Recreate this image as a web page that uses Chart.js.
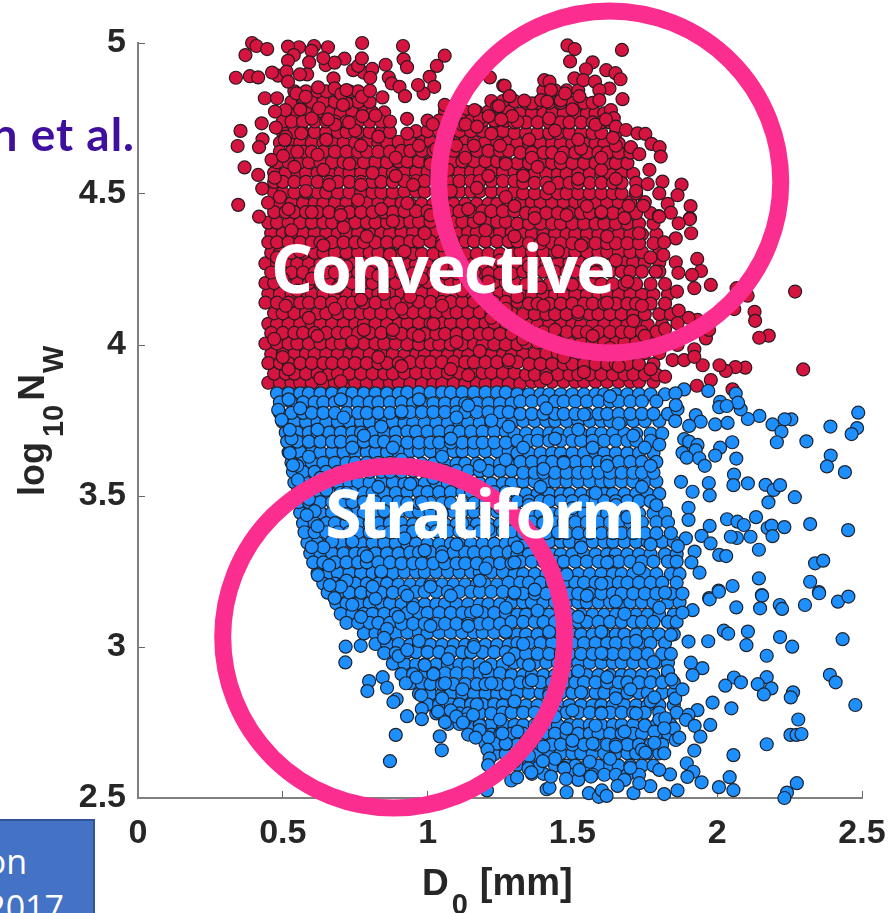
<!DOCTYPE html>
<html>
<head>
<meta charset="utf-8">
<title>D0 vs log10Nw</title>
<script src="https://cdn.jsdelivr.net/npm/chart.js@4/dist/chart.umd.min.js"></script>
<style>
  html, body { margin: 0; padding: 0; background: #fff; overflow: hidden; }
  #wrap { position: relative; width: 892px; height: 913px; overflow: hidden; }
  #cite { position: absolute; right: 757px; top: 112px; color: #3f0f9e; white-space: nowrap;
          font: 700 46px/44px Lato, sans-serif; letter-spacing: 1px; }
  #box { position: absolute; left: -2px; top: 819px; width: 93px; height: 100px; background: #4472c4;
         border: 2px solid #2f5597; color: #fff; overflow: hidden;
         font: 34px/40px "Open Sans", sans-serif; }
  #box div { position: absolute; white-space: nowrap; }
</style>
</head>
<body>
<div id="wrap">
  <canvas id="scatter" width="892" height="913"></canvas>
  <div id="cite">n et al.</div>
  <div id="box"><div style="right:66px;top:20px">on</div><div style="right:29px;top:66px">2017</div></div>
</div>
<script>
// tick values
const xTicks = [0, 0.5, 1, 1.5, 2, 2.5];
const yTicks = [2.5, 3, 3.5, 4, 4.5, 5];

// circles drawn on top of the scatter, D0 / log10Nw of their centres
const circleCentres = [[1.629, 4.54], [0.883, 3.033]];

// loose convective points, [D0, log10Nw]
const convectiveLoose = [
[.394,5.0],[.409,4.99],[.446,4.98],[.371,4.96],[.338,4.885],[.386,4.89],[.415,4.886],[.774,5.0],[.915,4.99],[.917,4.946],[.929,4.92],[1.059,4.958],[1.032,4.924],[1.007,4.888],[1.023,4.855],[.986,4.833],[.967,4.861],[.855,4.928],[.866,4.886],[.876,4.866],[.903,4.855],[.922,4.824],[.844,4.82],[.773,4.822],[.801,4.842],[.779,4.902],[.809,4.914],[.802,4.885],[.743,4.91],[.76,4.924],[.773,4.949],[.713,4.948],[.656,4.986],[.608,4.99],[.556,4.986],[.518,4.988],[.538,4.96],[.599,4.974],[.518,4.941],[.591,4.936],[.648,4.927],[.679,4.935],[.64,4.95],[.484,4.892],[.463,4.902],[.513,4.905],[.584,4.896],[.559,4.896],[.518,4.872],[.622,4.853],[.675,4.883],[.679,4.85],[.702,4.831],[.72,4.844],[.547,4.833],[.438,4.817],[.48,4.817],[.579,4.822],[.625,4.784],[.509,4.778],[.473,4.773],[.708,4.795],[.427,4.734],[.354,4.709],[.344,4.659],[.43,4.681],[.418,4.655],[.368,4.588],[.415,4.563],[.429,4.518],[.346,4.464],[.449,4.471],[.418,4.425],[.472,4.554],[.461,4.613],[.476,4.72],[.507,4.679],[.501,4.626],[.564,4.701],[.656,4.747],[.729,4.737],[.775,4.758],[.929,4.749],[1.018,4.731],[1.215,4.886],[1.261,4.859],[1.283,4.824],[1.246,4.791],[1.162,4.778],[1.211,4.758],[1.292,4.758],[1.254,4.747],[1.099,4.66],[1.059,4.795],[1.131,4.731],[1.171,4.723],
[1.483,4.992],[1.508,4.98],[1.671,4.977],[1.492,4.939],[1.57,4.936],[1.547,4.913],[1.617,4.91],[1.649,4.9],[1.666,4.88],[1.403,4.877],[1.421,4.872],[1.507,4.883],[1.538,4.877],[1.578,4.872],[1.628,4.849],[1.593,4.844],[1.673,4.814],[1.475,4.833],[1.426,4.844],[1.524,4.824],[1.593,4.811],[1.266,4.858],[1.283,4.824],[1.334,4.809],[1.392,4.811],[1.413,4.806],[1.633,4.778],[1.643,4.751],[1.616,4.747],[1.65,4.723],[1.685,4.712],[1.725,4.701],[1.752,4.699],[1.773,4.666],[1.801,4.655],[1.805,4.624],[1.702,4.655],[1.731,4.632],[1.64,4.686],[1.766,4.58],[1.811,4.541],[1.877,4.531],[1.863,4.496],[1.829,4.467],[1.908,4.46],[1.906,4.42],[1.8,4.502],[1.76,4.533],[1.745,4.461],[1.84,4.438],[1.798,4.427],[1.694,4.461],
[1.905,4.417],[1.91,4.37],[1.8,4.425],[1.867,4.403],[1.857,4.353],[1.817,4.34],[1.814,4.298],[1.931,4.285],[1.857,4.274],[1.944,4.245],[1.866,4.239],[1.913,4.232],[1.788,4.243],[1.978,4.199],[1.921,4.188],[1.861,4.177],[2.067,4.188],[2.105,4.163],[2.269,4.177],[2.129,4.11],[2.131,4.08],[2.059,4.119],[2.178,4.031],[2.145,4.024],[2.297,3.919],[2.097,3.925],[2.063,3.927],[2.03,3.914],[2.008,3.933],[1.95,3.933],[1.978,3.884],[1.93,3.865],[2.053,3.853],[1.846,3.95],[1.886,3.95],[1.921,3.986],[1.921,3.961],[1.961,4.022],[1.972,4.05],[1.932,4.083],[1.901,4.09],[1.867,4.114],[1.863,4.072],[1.82,4.053],[1.82,3.895],[1.863,4.0]
];

// irregular points on top of the dense convective cloud, [D0, log10Nw]
const convectiveOnTop = [
[.52,3.92],[.97,4.03],[1.41,3.89],[.68,4.12],[1.63,3.99],[.83,3.96],[1.22,4.09],[.47,4.02],[1.52,4.11],[1.08,3.92],[.74,4.01],[1.33,4.02],[.59,4.09],[1.71,4.08],[.91,4.12],[1.18,3.98],[1.47,3.96],[.63,3.89],[1.02,4.07],[1.77,3.92],
[.55,4.18],[.98,4.22],[1.39,4.19],[.72,4.26],[1.58,4.24],[.85,4.17],[1.25,4.28],[.48,4.29],[1.69,4.21],[1.12,4.18],[.64,4.33],[1.45,4.31],[.92,4.31],[1.31,4.16],[.79,4.36],[1.77,4.29],[1.05,4.33],[.53,4.38],[1.62,4.36],[1.2,4.38],
[.6,4.44],[1.01,4.43],[1.37,4.42],[.76,4.48],[1.55,4.46],[.88,4.41],[1.27,4.49],[.49,4.49],[1.68,4.42],[1.14,4.45],[.66,4.53],[1.42,4.52],[.95,4.53],[1.33,4.56],[.81,4.57],[1.72,4.51],[1.07,4.58],[.54,4.59],[1.6,4.58],[1.21,4.56],
[.62,4.63],[1.03,4.65],[1.36,4.62],[.77,4.66],[1.53,4.65],[.89,4.62],[1.25,4.66],[.51,4.69],[1.65,4.66],[1.13,4.62],[.68,4.73],[1.44,4.71],[.93,4.7],[1.31,4.74],[.82,4.76],[1.58,4.73],[1.12,4.73],[.56,4.78],[1.5,4.78],[1.36,4.8],
[.7,3.88],[1.14,3.9],[1.54,3.91],[.91,3.93],[.5,3.96],[1.28,3.95],[1.66,3.93],[.78,4.05],[1.1,4.01],[1.44,4.05],[.62,4.03],[1.57,4.03],[1.75,4.03],[.88,4.05],[1.27,4.12],[1.05,4.13],[.51,4.13],[1.4,4.13],[.77,4.15],[1.62,4.14],
[.94,4.16],[1.16,4.24],[.6,4.22],[1.35,4.26],[.83,4.23],[1.5,4.2],[1.74,4.13],[.5,4.22],[1.05,4.26],[1.65,4.28],[.69,4.19],[1.21,4.21],[.87,4.3],[1.4,4.35],[1.1,4.3],[.56,4.31],[1.53,4.33],[.99,4.37],[.71,4.39],[1.3,4.36],
[1.73,4.37],[.84,4.45],[1.18,4.42],[.52,4.45],[1.48,4.43],[1.08,4.51],[.7,4.43],[1.6,4.44],[.93,4.47],[1.3,4.46],[.58,4.51],[1.52,4.55],[.77,4.53],[1.17,4.52],[1.65,4.55],[1.38,4.59],[.89,4.56],[.64,4.58],[1.01,4.6],[1.27,4.6],
[.73,4.6],[1.46,4.62],[1.16,4.66],[.55,4.64],[1.6,4.62],[.97,4.66],[.83,4.69],[1.35,4.68],[.65,4.68],[1.07,4.69],[1.52,4.68],[1.22,4.7],[.75,4.71],[1.42,4.75],[.6,4.75],[1.24,4.79],[.72,4.8],[1.18,4.75],[.57,4.82],[1.46,4.81]
];

// dense convective cloud read band by band, [log10Nw, D0, D0, ...]
const convectiveBands = [
[3.875,.45,.49,.53,.56,.60,.64,.68,.71,.75,.79,.83,.87,.90],[3.872,.94,.98,1.02,1.05,1.09,1.13,1.17,1.20,1.24,1.28,1.32],[3.878,1.36,1.39,1.43,1.47,1.51,1.54,1.58,1.62,1.66,1.70,1.73,1.78],
[3.97,.46,.50,.54,.58,.61,.65,.69,.73,.76,.80,.84,.88],[3.967,.92,.96,.99,1.03,1.07,1.11,1.14,1.18,1.22,1.26,1.29],[3.973,1.33,1.37,1.41,1.45,1.48,1.52,1.56,1.60,1.63,1.67,1.71,1.75,1.80],
[4.07,.45,.48,.52,.56,.60,.63,.67,.71,.75,.78,.82,.86,.90],[4.073,.93,.97,1.01,1.05,1.08,1.12,1.16,1.20,1.23,1.27,1.31],[4.067,1.35,1.38,1.42,1.46,1.50,1.53,1.57,1.61,1.65,1.69,1.72,1.76,1.81],
[4.17,.45,.49,.53,.57,.60,.64,.68,.72,.76,.79,.83,.87],[4.173,.91,.94,.98,1.02,1.06,1.10,1.13,1.17,1.21,1.25,1.28],[4.167,1.32,1.36,1.40,1.44,1.47,1.51,1.55,1.59,1.62,1.66,1.70,1.74,1.78,1.83],
[4.27,.44,.48,.51,.55,.59,.63,.66,.70,.74,.78,.81,.85,.89],[4.267,.93,.96,1.00,1.04,1.08,1.11,1.15,1.19,1.23,1.26,1.30],[4.273,1.34,1.38,1.41,1.45,1.49,1.53,1.56,1.60,1.64,1.68,1.71,1.75,1.80],
[4.37,.46,.50,.53,.57,.61,.65,.69,.72,.76,.80,.84,.87],[4.373,.91,.95,.99,1.02,1.06,1.10,1.14,1.17,1.21,1.25,1.29],[4.367,1.33,1.36,1.40,1.44,1.48,1.51,1.55,1.59,1.63,1.66,1.70,1.74,1.79],
[4.47,.46,.49,.53,.57,.61,.64,.68,.72,.76,.79,.83,.87,.91],[4.467,.94,.98,1.02,1.06,1.09,1.13,1.17,1.21,1.24,1.28],[4.473,1.32,1.36,1.39,1.43,1.47,1.51,1.54,1.58,1.62,1.66,1.70,1.75],
[4.57,.47,.51,.55,.58,.62,.66,.70,.73,.77,.81,.85,.88],[4.573,.92,.96,1.00,1.03,1.07,1.11,1.15,1.18,1.22,1.26,1.30],[4.567,1.33,1.37,1.41,1.45,1.48,1.52,1.56,1.60,1.63,1.67,1.71],
[4.67,.49,.53,.56,.60,.64,.68,.71,.75,.79,.83,.86],[4.673,.90,.94,.98,1.01,1.05,1.09,1.13,1.16,1.20,1.24,1.28],[4.667,1.31,1.35,1.39,1.43,1.46,1.50,1.54,1.58,1.61,1.66],
[4.77,.51,.55,.59,.62,.66,.70,.74,.78,.81,.85],[4.773,1.06,1.10,1.13,1.17,1.21,1.25,1.28],[4.767,1.32,1.36,1.40,1.43,1.47,1.51,1.55,1.58,1.61],
[3.905,.47,.51,.54,.58,.62,.66,.69,.73,.77,.81,.85,.88],[3.908,.92,.96,1.00,1.03,1.07,1.11,1.15,1.19,1.22,1.26,1.30],[3.902,1.34,1.37,1.41,1.45,1.49,1.52,1.56,1.60,1.64,1.68,1.71,1.75,1.79],
[4.005,.44,.48,.52,.55,.59,.63,.67,.70,.74,.78,.82,.85,.89],[4.002,.93,.97,1.01,1.04,1.08,1.12,1.16,1.19,1.23,1.27,1.31],[4.008,1.34,1.38,1.42,1.46,1.49,1.53,1.57,1.61,1.65,1.68,1.72,1.77,1.82],
[4.105,.47,.50,.54,.58,.62,.65,.69,.73,.77,.80,.84,.88],[4.108,.92,.95,.99,1.03,1.07,1.10,1.14,1.18,1.22,1.26,1.29],[4.102,1.33,1.37,1.41,1.44,1.48,1.52,1.56,1.59,1.63,1.67,1.71,1.75,1.80,1.84],
[4.205,.44,.47,.51,.55,.59,.63,.66,.70,.74,.78,.81,.85,.89],[4.208,.93,.96,1.00,1.04,1.08,1.11,1.15,1.19,1.23,1.27,1.30],[4.202,1.34,1.38,1.42,1.45,1.49,1.53,1.57,1.60,1.64,1.68,1.72,1.77,1.82],
[4.305,.46,.49,.53,.57,.61,.64,.68,.72,.76,.80,.83,.87],[4.302,.91,.95,.98,1.02,1.06,1.10,1.13,1.17,1.21,1.25,1.29],[4.308,1.32,1.36,1.40,1.44,1.47,1.51,1.55,1.59,1.62,1.66,1.70,1.74,1.80],
[4.405,.45,.48,.52,.56,.60,.64,.67,.71,.75,.79,.82,.86,.90],[4.408,.94,.97,1.01,1.05,1.09,1.12,1.16,1.20,1.24,1.27],[4.402,1.31,1.35,1.39,1.43,1.46,1.50,1.54,1.58,1.61,1.65,1.69,1.73,1.78],
[4.505,.47,.50,.54,.58,.62,.65,.69,.73,.77,.81,.84,.88],[4.508,.92,.96,.99,1.03,1.07,1.11,1.15,1.18,1.22,1.26,1.30],[4.502,1.33,1.37,1.41,1.45,1.48,1.52,1.56,1.60,1.64,1.67,1.72],
[4.605,.48,.52,.56,.59,.63,.67,.71,.75,.78,.82,.86],[4.608,.90,.93,.97,1.01,1.05,1.09,1.12,1.16,1.20,1.24,1.27],[4.602,1.31,1.35,1.39,1.43,1.46,1.50,1.54,1.58,1.62,1.65,1.69],
[4.705,.50,.54,.57,.61,.65,.69,.72,.76,.80,.84,.87],[4.708,.96,1.00,1.04,1.08,1.11,1.15,1.19,1.23,1.26],[4.702,1.30,1.34,1.38,1.42,1.45,1.49,1.53,1.57,1.60,1.65],
[4.805,.53,.57,.60,.64,.68,.72,.76,.80],[4.808,1.22,1.26,1.30],[4.802,1.34,1.38,1.42,1.46,1.50,1.54,1.57],
[3.94,.45,.49,.52,.56,.60,.64,.67,.71,.75,.79,.83,.86,.90],[3.943,.94,.98,1.01,1.05,1.09,1.13,1.16,1.20,1.24,1.28,1.31],[3.937,1.35,1.39,1.43,1.47,1.50,1.54,1.58,1.62,1.65,1.69,1.73,1.78],
[4.04,.46,.50,.54,.57,.61,.65,.69,.72,.76,.80,.84,.88],[4.037,.91,.95,.99,1.03,1.06,1.10,1.14,1.18,1.21,1.25,1.29],[4.043,1.33,1.36,1.40,1.44,1.48,1.52,1.55,1.59,1.63,1.67,1.70,1.74,1.79],
[4.14,.44,.48,.52,.56,.59,.63,.67,.71,.74,.78,.82,.86,.89],[4.143,.93,.97,1.01,1.05,1.08,1.12,1.16,1.20,1.23,1.27,1.31],[4.137,1.35,1.38,1.42,1.46,1.50,1.54,1.57,1.61,1.65,1.69,1.72,1.77,1.82],
[4.24,.46,.50,.53,.57,.61,.65,.68,.72,.76,.80,.84,.87],[4.237,.91,.95,.99,1.02,1.06,1.10,1.14,1.17,1.21,1.25,1.29],[4.243,1.33,1.36,1.40,1.44,1.48,1.51,1.55,1.59,1.63,1.67,1.70,1.74,1.80],
[4.34,.45,.48,.52,.56,.60,.63,.67,.71,.75,.78,.82,.86,.90],[4.343,.94,.97,1.01,1.05,1.09,1.13,1.16,1.20,1.24,1.28,1.31],[4.337,1.35,1.39,1.43,1.46,1.50,1.54,1.58,1.62,1.65,1.69,1.73,1.78],
[4.44,.47,.51,.54,.58,.62,.66,.70,.73,.77,.81,.85,.88],[4.443,.92,.96,1.00,1.04,1.07,1.11,1.15,1.19,1.22,1.26,1.30],[4.437,1.34,1.37,1.41,1.45,1.49,1.53,1.56,1.60,1.64,1.68,1.72,1.77],
[4.54,.47,.50,.54,.58,.62,.66,.69,.73,.77,.81,.84,.88],[4.543,.92,.96,.99,1.03,1.07,1.11,1.15,1.18,1.22,1.26,1.30],[4.537,1.33,1.37,1.41,1.45,1.49,1.52,1.56,1.60,1.64,1.67,1.72],
[4.64,.49,.53,.57,.60,.64,.68,.72,.76,.79,.83,.87],[4.643,.91,.94,.98,1.02,1.06,1.09,1.13,1.17,1.21,1.25,1.28],[4.637,1.32,1.36,1.40,1.43,1.47,1.51,1.55,1.59,1.62,1.66,1.70],
[4.74,.50,.53,.57,.61,.65,.68,.72,.76,.80,.84,.87],[4.743,1.00,1.04,1.08,1.12,1.15,1.19,1.23,1.27],[4.737,1.30,1.34,1.38,1.42,1.46,1.49,1.53,1.57,1.60,1.63],
[4.84,.54,.58,.62,.65,.69,.73,.76],[4.843,1.40,1.44,1.48,1.52]
];

// loose stratiform points, [D0, log10Nw]
const stratiformLoose = [
[2.487,3.776],[2.483,3.725],[2.464,3.705],[2.391,3.73],[2.308,3.681],[2.256,3.754],[2.233,3.754],[2.191,3.737],[2.222,3.713],[2.206,3.678],[2.146,3.765],[2.106,3.755],[2.081,3.787],[2.064,3.839],[2.072,3.809],[2.01,3.812],[2.007,3.794],[2.033,3.798],[1.969,3.848],[1.886,3.853],[1.856,3.84],[1.863,3.787],[1.857,3.801],[1.855,3.748],[1.926,3.768],[1.943,3.746],[1.903,3.732],[1.993,3.737],[2.036,3.742],[1.886,3.688],[1.903,3.68],[1.932,3.669],[1.926,3.652],[1.88,3.643],[1.895,3.627],[1.938,3.625],[1.957,3.6],[2.01,3.66],[1.993,3.634],[2.052,3.678],[2.066,3.624],[2.058,3.571],[2.056,3.536],[2.106,3.542],[2.167,3.537],[2.195,3.52],[2.217,3.536],[2.177,3.479],[2.268,3.496],[2.392,3.634],[2.379,3.598],[2.441,3.579],[1.971,3.543],[1.974,3.502],[1.915,3.514],[1.875,3.547],[1.901,3.461],[1.901,3.421],[2.034,3.423],[2.134,3.43],[2.07,3.415],[2.092,3.404],[2.174,3.394],[2.188,3.402],[2.232,3.397],[2.321,3.407],[2.452,3.387],[2.191,3.367],[2.115,3.365],[2.068,3.361],[2.047,3.365],[2.144,3.322],[1.974,3.401],[1.946,3.368],[1.977,3.343],[1.892,3.36],[1.864,3.334],[1.922,3.316],[2.007,3.305],[2.031,3.301],[1.911,3.28],[1.939,3.246],[2.338,3.277],[2.366,3.286],[2.144,3.227],[2.321,3.216],[2.351,3.182],[2.053,3.202],[2.005,3.187],[1.972,3.162],[2.154,3.172],
[1.974,3.158],[2.006,3.183],[2.066,3.131],[2.155,3.17],[2.148,3.128],[2.216,3.139],[2.224,3.126],[2.303,3.139],[2.352,3.178],[2.417,3.15],[2.453,3.167],[1.915,3.122],[1.88,3.114],[2.023,3.054],[2.038,3.044],[2.106,3.051],[1.969,3.019],[2.101,3.006],[2.217,3.033],[2.259,3.001],[2.433,3.026],[2.171,2.971],[1.901,3.018],[1.949,2.93],[1.909,2.948],[1.915,2.907],[2.058,2.899],[2.082,2.883],[2.028,2.872],[2.171,2.9],[2.14,2.877],[2.187,2.863],[2.161,2.843],[2.389,2.908],[2.409,2.883],[2.262,2.85],[2.254,2.833],[2.477,2.808],[1.984,2.816],[2.049,2.797],[1.932,2.791],[1.901,2.775],[1.892,2.759],[1.922,2.739],[1.976,2.742],[1.942,2.703],[2.28,2.76],[2.253,2.709],[2.274,2.709],[2.291,2.712],[2.171,2.678],[2.056,2.642],[1.921,2.657],[1.895,2.615],[1.918,2.587],[1.946,2.552],[2.043,2.569],[2.006,2.536],[2.056,2.526],[2.275,2.549],[2.241,2.518],[2.232,2.5],[1.863,2.525],[1.817,2.513],[1.769,2.539],[1.837,2.578],[1.8,2.593],[1.897,2.57],[1.857,2.692],[1.869,2.7],[1.783,2.72],[1.783,2.683],[1.817,2.648],[1.752,2.65],[1.783,2.833],[1.855,2.829],[1.88,2.86],[1.821,2.764],[1.817,2.731],[1.842,2.893],
[.717,3.001],[.769,3.004],[.716,2.949],[.798,2.887],[.792,2.854],[.845,2.9],[.86,2.865],[.893,2.827],[.882,2.818],[.98,2.795],[.929,2.771],[.98,2.761],[.89,2.709],[1.042,2.704],[1.049,2.658],[.87,2.622],[.978,2.84],[.925,2.88],[.962,2.899],[1.036,2.786],[1.06,2.751],[1.099,2.77],[1.122,2.75],[1.157,2.775],[1.179,2.725],[1.166,2.7],[1.258,2.714],[1.207,2.66],[1.214,2.631],[1.209,2.609],[1.289,2.558],[1.309,2.568],[1.348,2.598],[1.358,2.585],[1.205,2.525],[1.411,2.529],[1.421,2.534],[1.48,2.519],[1.557,2.516],[1.591,2.504],[1.602,2.525],[1.618,2.507],[1.711,2.516],[1.656,2.54],[1.731,2.549],[1.472,2.598],[1.478,2.563],[1.426,2.571],[1.524,2.593],[1.398,2.622],[1.564,2.571],
[.484,3.785],[.496,3.752],[.524,3.719],[.524,3.642],[.535,3.602],[.552,3.553],[.583,3.437],[.6,3.331],[.621,3.238],[.662,3.205],[.679,3.162]
];

// irregular points on top of the dense stratiform cloud, [D0, log10Nw]
const stratiformOnTop = [
[.56,3.79],[.97,3.82],[1.41,3.79],[.71,3.76],[1.63,3.83],[.84,3.73],[1.22,3.75],[.53,3.69],[1.52,3.72],[1.08,3.69],[.74,3.66],[1.33,3.66],[.59,3.63],[1.71,3.7],[.91,3.62],[1.18,3.6],[1.47,3.61],[.63,3.56],[1.02,3.56],[1.77,3.6],
[.59,3.49],[.98,3.48],[1.39,3.53],[.72,3.51],[1.58,3.51],[.85,3.45],[1.25,3.46],[.62,3.4],[1.69,3.43],[1.12,3.41],[.67,3.35],[1.45,3.38],[.92,3.36],[1.31,3.33],[.79,3.3],[1.77,3.34],[1.05,3.3],[.66,3.27],[1.62,3.28],[1.2,3.26],
[.72,3.22],[1.01,3.2],[1.37,3.19],[.82,3.16],[1.55,3.17],[.95,3.13],[1.27,3.13],[.77,3.1],[1.68,3.11],[1.14,3.07],[.86,3.06],[1.42,3.05],[.97,3.02],[1.33,3.01],[.9,2.97],[1.72,3.02],[1.07,2.96],[1.6,2.98],[1.2,2.93],[1.02,2.91],
[1.12,2.86],[1.36,2.89],[1.05,2.83],[1.53,2.85],[1.17,2.81],[1.25,2.76],[1.65,2.83],[1.13,2.76],[1.44,2.77],[1.31,2.72],[1.58,2.74],[1.75,2.74],[1.21,2.7],[1.4,2.67],[1.5,2.69],[1.65,2.67],[1.3,2.62],[1.56,2.62],[1.7,2.6],[1.47,2.6],
[.7,3.82],[1.14,3.8],[1.54,3.77],[.91,3.78],[.52,3.82],[1.28,3.73],[1.66,3.74],[.78,3.7],[1.1,3.76],[1.44,3.69],[.62,3.72],[1.57,3.66],[1.75,3.66],[.88,3.66],[1.27,3.62],[1.05,3.63],[.55,3.6],[1.4,3.59],[.77,3.59],[1.62,3.6],
[.94,3.54],[1.16,3.53],[.65,3.52],[1.35,3.47],[.83,3.53],[1.5,3.46],[1.74,3.53],[.61,3.45],[1.05,3.44],[1.65,3.47],[.72,3.44],[1.21,3.39],[.87,3.38],[1.4,3.41],[1.1,3.34],[.64,3.33],[1.53,3.33],[.99,3.32],[.74,3.35],[1.3,3.28],
[1.73,3.26],[.84,3.25],[1.18,3.22],[.7,3.2],[1.48,3.24],[1.08,3.17],[.81,3.2],[1.6,3.21],[.93,3.17],[1.3,3.18],[.74,3.14],[1.52,3.1],[.9,3.1],[1.17,3.12],[1.65,3.15],[1.38,3.12],[.85,3.03],[1.01,3.07],[1.27,3.05],[1.8,3.13],
[.93,2.99],[1.46,2.98],[1.16,3.0],[.99,2.94],[1.6,3.05],[1.28,2.96],[1.06,2.88],[1.35,2.94],[1.78,2.95],[1.52,2.92],[1.22,2.88],[1.42,2.84],[1.08,2.79],[1.62,2.9],[1.7,2.86],[1.3,2.82],[1.18,2.74],[1.5,2.79],[1.77,2.82],[1.6,2.78],
[1.38,2.74],[1.27,2.68],[1.48,2.73],[1.68,2.72],[1.35,2.64],[1.57,2.68],[1.74,2.66],[1.44,2.63],[1.63,2.63],[1.52,2.56],[1.68,2.56],[1.38,2.6],[1.8,2.76],[1.72,2.78],[1.85,2.73],[1.83,2.92],[1.84,3.04],[1.82,3.18],[1.79,3.47],[1.8,3.67]
];

// dense stratiform cloud read band by band, [log10Nw, D0, D0, ...]
const stratiformBands = [
[3.84,.48,.52,.56,.59,.63,.67,.71,.74,.78,.82,.86,.90],[3.843,.93,.97,1.01,1.05,1.08,1.12,1.16,1.20,1.24,1.27],[3.837,1.31,1.35,1.39,1.42,1.46,1.50,1.54,1.58,1.61,1.65,1.69,1.73,1.77,1.82],
[3.745,.50,.54,.58,.62,.65,.69,.73,.77,.80,.84,.88],[3.742,.92,.95,.99,1.03,1.07,1.11,1.14,1.18,1.22,1.26,1.29],[3.748,1.33,1.37,1.41,1.44,1.48,1.52,1.56,1.60,1.63,1.67,1.71,1.75,1.80],
[3.645,.52,.56,.60,.63,.67,.71,.75,.79,.82,.86,.90],[3.648,.94,.97,1.01,1.05,1.09,1.12,1.16,1.20,1.24,1.28],[3.642,1.31,1.35,1.39,1.43,1.46,1.50,1.54,1.58,1.61,1.65,1.69,1.73,1.78],
[3.545,.54,.58,.61,.65,.69,.73,.76,.80,.84,.88],[3.542,.92,.95,.99,1.03,1.07,1.11,1.14,1.18,1.22,1.26,1.29],[3.548,1.33,1.37,1.41,1.44,1.48,1.52,1.56,1.60,1.63,1.67,1.71,1.75,1.79],
[3.445,.56,.60,.63,.67,.71,.75,.78,.82,.86,.90],[3.448,.94,.97,1.01,1.05,1.09,1.12,1.16,1.20,1.24,1.28],[3.442,1.31,1.35,1.39,1.43,1.46,1.50,1.54,1.58,1.62,1.65,1.69,1.73,1.78,1.82],
[3.345,.585,.62,.66,.70,.74,.77,.81,.85,.89],[3.342,.93,.96,1.00,1.04,1.08,1.11,1.15,1.19,1.23,1.27],[3.348,1.30,1.34,1.38,1.42,1.46,1.49,1.53,1.57,1.61,1.64,1.68,1.72,1.76,1.81,1.85],
[3.245,.62,.66,.69,.73,.77,.81,.84,.88],[3.248,.92,.96,.99,1.03,1.07,1.11,1.15,1.18,1.22,1.26],[3.242,1.30,1.33,1.37,1.41,1.45,1.48,1.52,1.56,1.60,1.64,1.67,1.71,1.75,1.79,1.84,1.87],
[3.145,.685,.72,.76,.80,.84,.87],[3.142,.91,.95,.99,1.03,1.06,1.10,1.14,1.18,1.21,1.25],[3.148,1.29,1.33,1.36,1.40,1.44,1.48,1.52,1.55,1.59,1.63,1.67,1.70,1.74,1.78,1.83,1.87],
[3.045,.78,.82,.85,.89],[3.048,.93,.97,1.00,1.04,1.08,1.12,1.16,1.19,1.23,1.27],[3.042,1.31,1.34,1.38,1.42,1.46,1.50,1.53,1.57,1.61,1.65,1.68,1.72,1.76,1.80,1.85],
[2.945,.88,.92],[2.942,.96,.99,1.03,1.07,1.11,1.14,1.18,1.22,1.26],[2.948,1.30,1.33,1.37,1.41,1.45,1.48,1.52,1.56,1.60,1.64,1.67,1.71,1.75,1.79,1.83],
[2.845,.97,1.01,1.05,1.08,1.12,1.16,1.20,1.24],[2.848,1.27,1.31,1.35,1.39,1.42,1.46,1.50,1.54,1.58,1.61,1.65,1.69,1.73,1.76,1.81,1.85],
[2.745,1.07,1.11,1.15,1.18,1.22,1.26],[2.742,1.30,1.33,1.37,1.41,1.45,1.49,1.52,1.56,1.60,1.64,1.67,1.71,1.75,1.79,1.84],
[2.645,1.23,1.27,1.31,1.35,1.38],[2.648,1.42,1.46,1.50,1.53,1.57,1.61,1.65,1.69,1.72,1.76,1.80],
[3.81,.49,.53,.57,.61,.64,.68,.72,.76,.80,.83,.87,.91],[3.807,.95,.98,1.02,1.06,1.10,1.13,1.17,1.21,1.25,1.29],[3.813,1.32,1.36,1.40,1.44,1.47,1.51,1.55,1.59,1.63,1.66,1.70,1.74,1.79],
[3.71,.51,.55,.59,.62,.66,.70,.74,.77,.81,.85,.89],[3.713,.93,.96,1.00,1.04,1.08,1.11,1.15,1.19,1.23,1.27],[3.707,1.30,1.34,1.38,1.42,1.45,1.49,1.53,1.57,1.60,1.64,1.68,1.72,1.77,1.81],
[3.61,.53,.57,.60,.64,.68,.72,.75,.79,.83,.87,.91],[3.607,.94,.98,1.02,1.06,1.10,1.13,1.17,1.21,1.25,1.28],[3.613,1.32,1.36,1.40,1.43,1.47,1.51,1.55,1.59,1.62,1.66,1.70,1.74,1.79],
[3.51,.55,.59,.63,.66,.70,.74,.78,.81,.85,.89],[3.513,.93,.97,1.00,1.04,1.08,1.12,1.15,1.19,1.23,1.27],[3.507,1.31,1.34,1.38,1.42,1.46,1.49,1.53,1.57,1.61,1.64,1.68,1.72,1.76,1.80],
[3.41,.57,.61,.65,.68,.72,.76,.80,.83,.87,.91],[3.407,.95,.98,1.02,1.06,1.10,1.14,1.17,1.21,1.25,1.29],[3.413,1.32,1.36,1.40,1.44,1.47,1.51,1.55,1.59,1.63,1.66,1.70,1.74,1.79,1.83],
[3.31,.595,.63,.67,.71,.75,.78,.82,.86,.90],[3.313,.94,.97,1.01,1.05,1.09,1.13,1.16,1.20,1.24,1.28],[3.307,1.31,1.35,1.39,1.43,1.46,1.50,1.54,1.58,1.62,1.65,1.69,1.73,1.77,1.82,1.86],
[3.21,.64,.68,.71,.75,.79,.83,.86],[3.207,.90,.94,.98,1.01,1.05,1.09,1.13,1.17,1.20,1.24],[3.213,1.28,1.32,1.35,1.39,1.43,1.47,1.51,1.54,1.58,1.62,1.66,1.69,1.73,1.77,1.81,1.86],
[3.11,.70,.74,.78,.81,.85,.89],[3.113,.93,.97,1.00,1.04,1.08,1.12,1.15,1.19,1.23,1.27],[3.107,1.31,1.34,1.38,1.42,1.46,1.49,1.53,1.57,1.61,1.65,1.68,1.72,1.76,1.80,1.85],
[3.01,.82,.86,.90],[3.007,.94,.97,1.01,1.05,1.09,1.13,1.16,1.20,1.24,1.28],[3.013,1.31,1.35,1.39,1.43,1.47,1.50,1.54,1.58,1.62,1.65,1.69,1.73,1.77,1.82],
[2.91,.91,.95,.99],[2.913,1.02,1.06,1.10,1.14,1.18,1.21,1.25],[2.907,1.29,1.33,1.36,1.40,1.44,1.48,1.52,1.55,1.59,1.63,1.67,1.70,1.74,1.78,1.83],
[2.81,1.00,1.04,1.08,1.11,1.15,1.19,1.23],[2.807,1.26,1.30,1.34,1.38,1.42,1.45,1.49,1.53,1.57,1.60,1.64,1.68,1.72,1.76,1.80,1.85],
[2.71,1.14,1.18,1.22,1.25],[2.713,1.29,1.33,1.37,1.40,1.44,1.48,1.52,1.56,1.59,1.63,1.67,1.71,1.74,1.79,1.83],
[2.61,1.27,1.31,1.35],[2.607,1.44,1.48,1.51,1.55,1.59,1.63,1.66,1.70,1.74,1.78],
[3.775,.49,.53,.57,.60,.64,.68,.72,.76,.79,.83,.87,.91],[3.778,.94,.98,1.02,1.06,1.10,1.13,1.17,1.21,1.25,1.28],[3.772,1.32,1.36,1.40,1.44,1.47,1.51,1.55,1.59,1.62,1.66,1.70,1.74,1.78,1.83],
[3.68,.515,.55,.59,.63,.67,.70,.74,.78,.82,.85,.89],[3.677,.93,.97,1.01,1.04,1.08,1.12,1.16,1.19,1.23,1.27],[3.683,1.31,1.35,1.38,1.42,1.46,1.50,1.53,1.57,1.61,1.65,1.69,1.72,1.77],
[3.58,.535,.57,.61,.65,.69,.72,.76,.80,.84,.87,.91],[3.583,.95,.99,1.03,1.06,1.10,1.14,1.18,1.21,1.25,1.29],[3.577,1.33,1.37,1.40,1.44,1.48,1.52,1.55,1.59,1.63,1.67,1.71,1.74,1.78],
[3.48,.555,.59,.63,.67,.71,.74,.78,.82,.86,.90],[3.477,.93,.97,1.01,1.05,1.08,1.12,1.16,1.20,1.23,1.27],[3.483,1.31,1.35,1.39,1.42,1.46,1.50,1.54,1.58,1.61,1.65,1.69,1.73,1.77],
[3.38,.575,.61,.65,.69,.73,.76,.80,.84,.88],[3.383,.92,.95,.99,1.03,1.07,1.11,1.14,1.18,1.22,1.26,1.29],[3.377,1.33,1.37,1.41,1.45,1.48,1.52,1.56,1.60,1.64,1.67,1.71,1.75,1.79,1.84],
[3.28,.605,.64,.68,.72,.76,.79,.83,.87],[3.277,.91,.95,.98,1.02,1.06,1.10,1.13,1.17,1.21,1.25,1.29],[3.283,1.32,1.36,1.40,1.44,1.47,1.51,1.55,1.59,1.63,1.66,1.70,1.74,1.78,1.83,1.86],
[3.18,.655,.69,.73,.77,.81,.84,.88],[3.183,.92,.96,.99,1.03,1.07,1.11,1.15,1.18,1.22,1.26],[3.177,1.30,1.33,1.37,1.41,1.45,1.49,1.52,1.56,1.60,1.64,1.67,1.71,1.75,1.79,1.84,1.88],
[3.08,.72,.76,.80,.83,.87],[3.077,.91,.95,.99,1.03,1.06,1.10,1.14,1.18,1.21,1.25],[3.083,1.29,1.33,1.37,1.40,1.44,1.48,1.52,1.55,1.59,1.63,1.67,1.71,1.74,1.78,1.83,1.86],
[2.98,.85,.89],[2.983,.93,.96,1.00,1.04,1.08,1.12,1.15,1.19,1.23,1.27],[2.977,1.30,1.34,1.38,1.42,1.46,1.49,1.53,1.57,1.61,1.64,1.68,1.72,1.76,1.81,1.84],
[2.88,.94,.98],[2.877,1.01,1.05,1.09,1.13,1.17,1.20,1.24,1.28],[2.883,1.32,1.35,1.39,1.43,1.47,1.51,1.54,1.58,1.62,1.66,1.69,1.73,1.77,1.81,1.85],
[2.78,1.03,1.07,1.11,1.14,1.18,1.22],[2.783,1.26,1.29,1.33,1.37,1.41,1.45,1.48,1.52,1.56,1.60,1.63,1.67,1.71,1.75,1.80,1.86],
[2.68,1.20,1.24,1.27],[2.677,1.31,1.35,1.39,1.43,1.46,1.50,1.54,1.58,1.62,1.65,1.69,1.73,1.77,1.81],
[2.58,1.36,1.40],[2.577,1.50,1.53,1.57,1.61,1.65,1.69,1.73]
];

function toPoints(bands, onTop, loose) {
  const pts = [];
  bands.forEach(function (band) {
    for (let i = 1; i < band.length; i++) pts.push({ x: band[i], y: band[0] });
  });
  onTop.concat(loose).forEach(function (p) { pts.push({ x: p[0], y: p[1] }); });
  return pts;
}

// pieces of an axis title, each with its own size and drop, run on along the baseline
function drawPieces(ctx, pieces, x, y) {
  pieces.forEach(function (p) {
    ctx.font = 'bold ' + p.size + 'px "Liberation Sans"';
    x += p.gap || 0;
    ctx.fillText(p.t, x, y + (p.drop || 0));
    x += ctx.measureText(p.t).width;
  });
}

const overlayText = {
  id: 'overlayText',
  afterDatasetsDraw(chart) {
    const ctx = chart.ctx;
    const sx = chart.scales.x, sy = chart.scales.y;
    ctx.save();
    ctx.textBaseline = 'alphabetic';
    ctx.fillStyle = '#fff';
    ctx.textAlign = 'center';
    ctx.font = 'bold 66px "Open Sans"';
    ctx.letterSpacing = '-2px';
    ctx.fillText('Convective', sx.getPixelForValue(1.05), sy.getPixelForValue(4.172));
    ctx.letterSpacing = '-2.7px';
    ctx.fillText('Stratiform', sx.getPixelForValue(1.195), sy.getPixelForValue(3.361));
    ctx.letterSpacing = '0px';

    ctx.fillStyle = '#262626';
    ctx.textAlign = 'left';
    drawPieces(ctx, [
      { t: 'D', size: 37 },
      { t: '0', size: 29, drop: 19, gap: 3 },
      { t: '[mm]', size: 38, gap: 12 }
    ], 422, 895);
    ctx.translate(44, 496);
    ctx.rotate(-Math.PI / 2);
    drawPieces(ctx, [
      { t: 'log', size: 36 },
      { t: '10', size: 29, drop: 19, gap: 5 },
      { t: 'N', size: 37, gap: 4 },
      { t: 'W', size: 29, drop: 19, gap: 1 }
    ], 0, 0);
    ctx.restore();
  }
};

const axisOptions = function (ticks, extra) {
  return Object.assign({
    type: 'linear',
    min: ticks[0],
    max: ticks[ticks.length - 1],
    border: { color: '#808080', width: 2 },
    grid: { drawOnChartArea: false, drawTicks: true, tickLength: -7, color: '#666', lineWidth: 1 },
    afterBuildTicks(axis) { axis.ticks = ticks.map(function (v) { return { value: v }; }); }
  }, extra);
};

const tickFont = { family: '"Liberation Sans"', size: 34, weight: 'bold' };

new Chart(document.getElementById('scatter'), {
  type: 'scatter',
  data: {
    datasets: [
      {
        label: 'circles',
        data: circleCentres.map(function (c) { return { x: c[0], y: c[1] }; }),
        pointRadius: 171,
        pointBorderWidth: 17,
        pointBorderColor: '#fb2d8f',
        pointBackgroundColor: 'rgba(0,0,0,0)',
        clip: false
      },
      {
        label: 'Stratiform',
        data: toPoints(stratiformBands, stratiformOnTop, stratiformLoose),
        pointRadius: 6.5,
        pointBorderWidth: 1.2,
        pointBorderColor: '#1c2430',
        pointBackgroundColor: '#1e8fff',
        clip: false
      },
      {
        label: 'Convective',
        data: toPoints(convectiveBands, convectiveOnTop, convectiveLoose),
        pointRadius: 6.5,
        pointBorderWidth: 1.2,
        pointBorderColor: '#2a1a20',
        pointBackgroundColor: '#d5143f',
        clip: false
      }
    ]
  },
  options: {
    responsive: false,
    animation: false,
    events: [],
    layout: { autoPadding: false, padding: { top: 43, right: 30 } },
    plugins: { legend: { display: false }, tooltip: { enabled: false } },
    scales: {
      x: axisOptions(xTicks, {
        afterFit(axis) { axis.height = 115; axis.paddingLeft = 0; axis.paddingRight = 0; },
        ticks: { font: tickFont, color: '#262626', padding: 22, maxRotation: 0, autoSkip: false, callback: function (v) { return String(v); } }
      }),
      y: axisOptions(yTicks, {
        afterFit(axis) { axis.width = 138; axis.paddingTop = 0; axis.paddingBottom = 0; },
        ticks: { font: tickFont, color: '#262626', padding: 19, autoSkip: false, callback: function (v) { return String(v); } }
      })
    }
  },
  plugins: [overlayText]
});
</script>
</body>
</html>
